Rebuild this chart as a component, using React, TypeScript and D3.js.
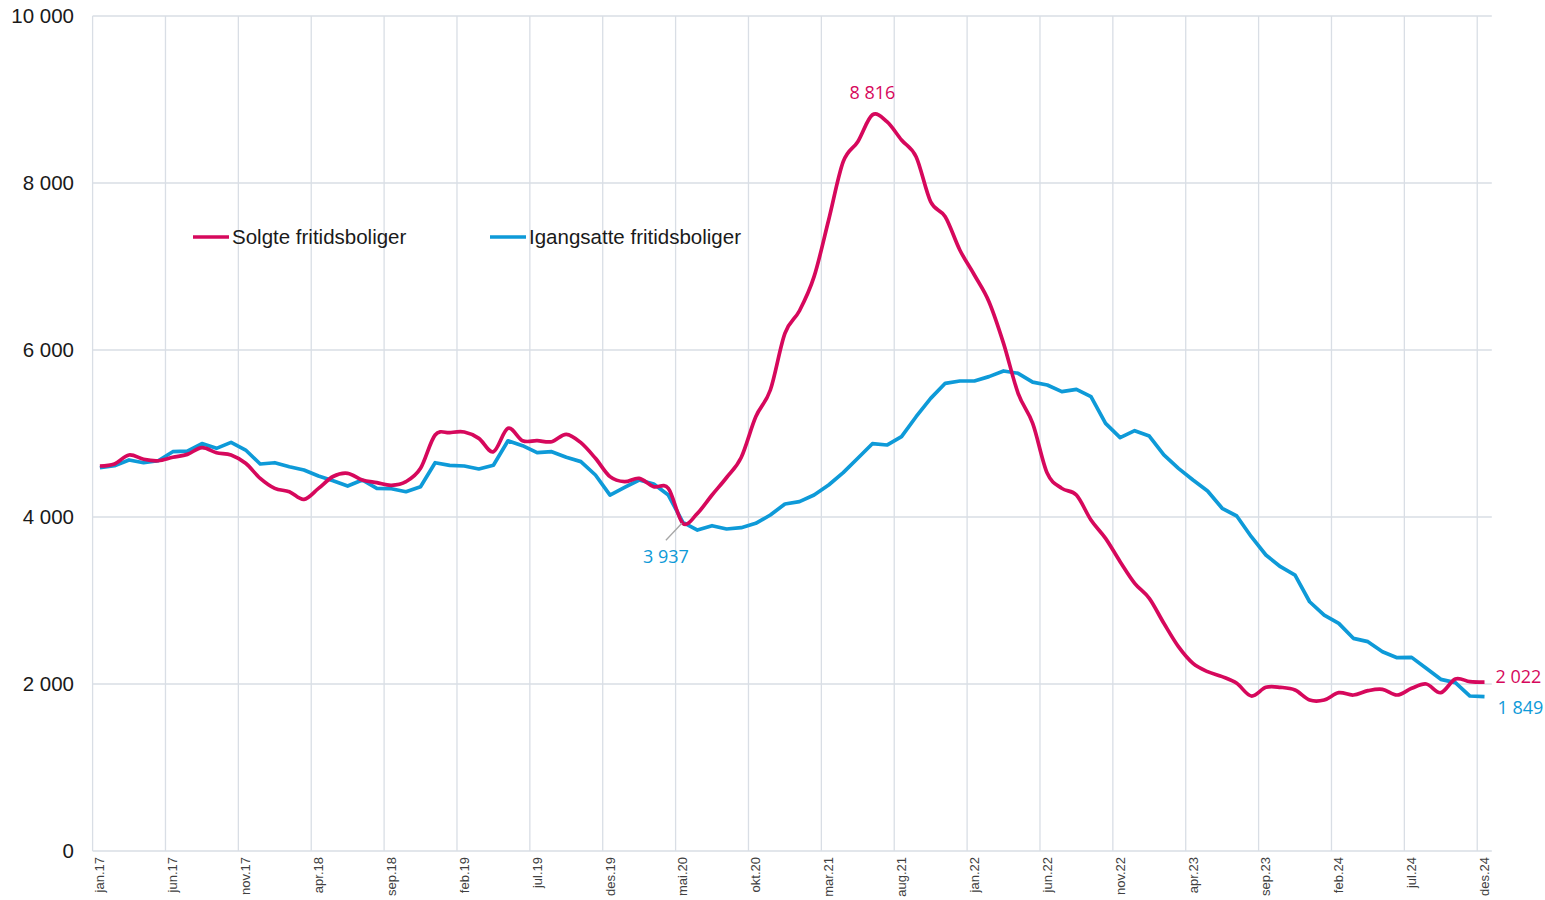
import * as d3 from 'd3'
import React from 'react'

// monthly values jan.17 - des.24
const monthNames = ['jan', 'feb', 'mar', 'apr', 'mai', 'jun', 'jul', 'aug', 'sep', 'okt', 'nov', 'des']
const years = ['17', '18', '19', '20', '21', '22', '23', '24']
const months = years.flatMap(y => monthNames.map(m => `${m}.${y}`))

const solgte = [
  4611, 4635, 4743, 4691, 4674, 4715, 4750, 4830, 4770, 4743, 4643, 4463,
  4343, 4303, 4211, 4343, 4485, 4523, 4443, 4411, 4379, 4423, 4583, 4982,
  5010, 5018, 4942, 4782, 5062, 4914, 4914, 4902, 4990, 4890, 4703, 4483,
  4423, 4463, 4363, 4343, 3924, 4044, 4263, 4473, 4713, 5201, 5521, 6200,
  6470, 6878, 7557, 8255, 8495, 8816, 8734, 8515, 8315, 7776, 7596, 7198,
  6898, 6579, 6080, 5481, 5122, 4523, 4343, 4263, 3964, 3744, 3465, 3206,
  3026, 2727, 2447, 2247, 2148, 2088, 2008, 1856, 1960, 1960, 1928, 1808,
  1808, 1896, 1868, 1920, 1936, 1868, 1948, 2000, 1896, 2060, 2028, 2022,
]

const igangsatte = [
  4590, 4614, 4683, 4650, 4674, 4782, 4790, 4880, 4822, 4894, 4802, 4635,
  4650, 4602, 4563, 4491, 4435, 4371, 4443, 4343, 4339, 4303, 4363, 4650,
  4619, 4611, 4575, 4619, 4913, 4854, 4770, 4782, 4715, 4663, 4503, 4263,
  4355, 4443, 4395, 4263, 3937, 3844, 3896, 3856, 3872, 3924, 4024, 4156,
  4184, 4263, 4383, 4531, 4703, 4878, 4862, 4962, 5201, 5421, 5601, 5629,
  5629, 5681, 5749, 5721, 5615, 5581, 5501, 5529, 5441, 5122, 4950, 5034,
  4970, 4743, 4583, 4443, 4311, 4104, 4012, 3764, 3545, 3405, 3305, 2985,
  2826, 2726, 2547, 2507, 2387, 2315, 2319, 2188, 2056, 2016, 1856, 1849,
]

const yTicks = [0, 2000, 4000, 6000, 8000, 10000]
const seriesNames = ['Solgte fritidsboliger', 'Igangsatte fritidsboliger']

const PINK = '#d6085c'
const BLUE = '#0e9ad8'
const GRID = '#d9dee5'

const fmt = (v: number) => d3.format(',')(v).replace(/,/g, ' ')

export default function App() {
  const W = 1545
  const H = 900
  const x = d3.scaleBand<string>().domain(months).range([92.6, 1491.8])
  const y = d3.scaleLinear().domain([0, 10000]).range([851, 16])
  const cx = (i: number) => (x(months[i]) as number) + x.bandwidth() / 2

  const straight = d3.line<number>().x((_, i) => cx(i)).y(d => y(d))
  const smooth = d3.line<number>().x((_, i) => cx(i)).y(d => y(d)).curve(d3.curveCardinal.tension(0))

  const tickMonths = months.filter((_, i) => i % 5 === 0)
  const peak = d3.maxIndex(solgte)
  const low = months.indexOf('mai.20') // labelled point
  const last = months.length - 1
  const labelFont = "'Open Sans', 'Noto Sans', sans-serif"

  return (
    <div style={{ position: 'absolute', left: 0, top: 0 }}>
      <svg width={W} height={H} style={{ display: 'block', background: '#fff' }}>
        {/* grid */}
        {yTicks.map(t => (
          <line key={t} x1={92.6} x2={1491.8} y1={y(t)} y2={y(t)} stroke={GRID} strokeWidth={1.3} />
        ))}
        {tickMonths.map(m => (
          <line key={m} x1={x(m)} x2={x(m)} y1={y(10000)} y2={y(0)} stroke={GRID} strokeWidth={1.3} />
        ))}

        {/* y labels */}
        {yTicks.map(t => (
          <text key={t} x={74} y={y(t)} dy="0.36em" textAnchor="end"
            fontFamily="'Liberation Sans', Arial, sans-serif" fontSize={20.5} fill="#1a1a1a">
            {fmt(t)}
          </text>
        ))}

        {/* x labels */}
        {tickMonths.map(m => (
          <text key={m} transform={`translate(${(x(m) as number) + x.bandwidth() / 2},857) rotate(-90)`}
            textAnchor="end" dy="0.35em"
            fontFamily="'Liberation Sans', Arial, sans-serif" fontSize={13} fill="#404040">
            {m}
          </text>
        ))}

        {/* series */}
        <path d={straight(igangsatte) || ''} fill="none" stroke={BLUE} strokeWidth={3.7} strokeLinejoin="round" />
        <path d={smooth(solgte) || ''} fill="none" stroke={PINK} strokeWidth={3.7} strokeLinejoin="round" />

        {/* data labels */}
        <text x={cx(peak)} y={y(solgte[peak]) - 16} textAnchor="middle"
          fontFamily={labelFont} fontSize={18} fill={PINK}>
          {fmt(solgte[peak])}
        </text>
        <line x1={cx(low) - 1} y1={y(igangsatte[low]) + 1} x2={cx(low) - 17} y2={y(igangsatte[low]) + 18}
          stroke="#a6a6a6" strokeWidth={1.3} />
        <text x={cx(low) - 17} y={y(igangsatte[low]) + 41} textAnchor="middle"
          fontFamily={labelFont} fontSize={18} fill={BLUE}>
          {fmt(igangsatte[low])}
        </text>
        <text x={cx(last) + 11} y={y(solgte[last]) + 1} fontFamily={labelFont}
          fontSize={18} fill={PINK}>
          {fmt(solgte[last])}
        </text>
        <text x={cx(last) + 13} y={y(igangsatte[last]) + 17} fontFamily={labelFont}
          fontSize={18} fill={BLUE}>
          {fmt(igangsatte[last])}
        </text>

        {/* legend */}
        {seriesNames.map((name, i) => {
          const lx = i === 0 ? 193 : 490
          return (
            <g key={name}>
              <line x1={lx} x2={lx + 36} y1={237} y2={237} stroke={i === 0 ? PINK : BLUE} strokeWidth={3.7} />
              <text x={lx + 39} y={237} dy="0.36em" fontFamily="'Liberation Sans', Arial, sans-serif"
                fontSize={20.5} fill="#1a1a1a">
                {name}
              </text>
            </g>
          )
        })}
      </svg>
    </div>
  )
}
